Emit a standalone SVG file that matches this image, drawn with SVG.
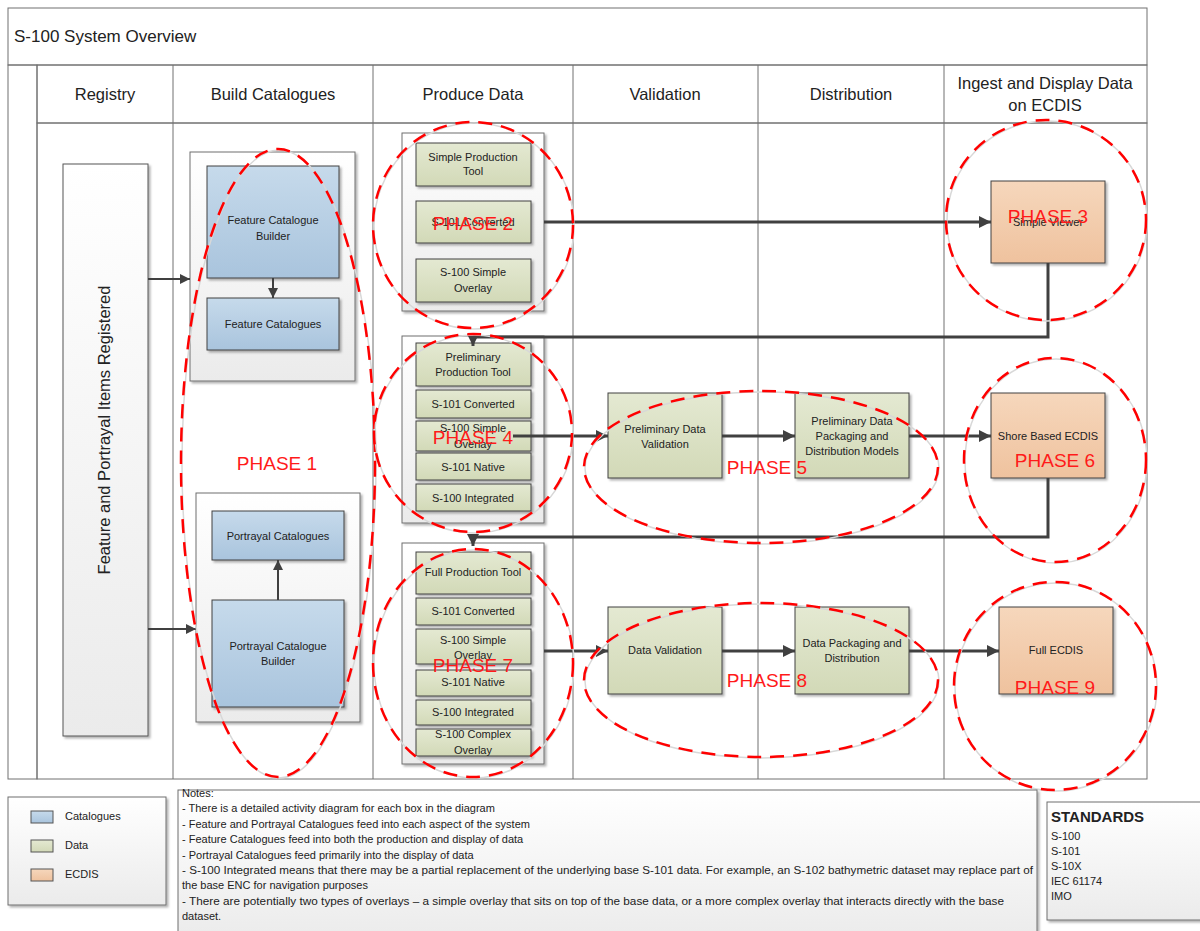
<svg xmlns="http://www.w3.org/2000/svg" width="1200" height="931" viewBox="0 0 1200 931">
<defs>
<linearGradient id="gBlue" x1="0" y1="0" x2="0" y2="1"><stop offset="0" stop-color="#C6DAEB"/><stop offset="1" stop-color="#A9C4DD"/></linearGradient>
<linearGradient id="gGreen" x1="0" y1="0" x2="0" y2="1"><stop offset="0" stop-color="#E4E9D2"/><stop offset="1" stop-color="#D2D9B7"/></linearGradient>
<linearGradient id="gOrange" x1="0" y1="0" x2="0" y2="1"><stop offset="0" stop-color="#F6D7BC"/><stop offset="1" stop-color="#EFC29E"/></linearGradient>
<linearGradient id="gGroup" x1="0" y1="0" x2="0" y2="1"><stop offset="0" stop-color="#FFFFFF"/><stop offset="1" stop-color="#EBEBEB"/></linearGradient>
<linearGradient id="gHead" x1="0" y1="0" x2="0" y2="1"><stop offset="0" stop-color="#FFFFFF"/><stop offset="1" stop-color="#EEEEEE"/></linearGradient>
<linearGradient id="gStrip" x1="0" y1="0" x2="1" y2="0"><stop offset="0" stop-color="#F7F7F7"/><stop offset="1" stop-color="#E6E6E6"/></linearGradient>
<filter id="sh" x="-10%" y="-10%" width="130%" height="130%"><feDropShadow dx="2" dy="2" stdDeviation="1" flood-color="#000" flood-opacity="0.3"/></filter>
<marker id="ah" viewBox="0 0 10 10" refX="10" refY="5" markerWidth="12" markerHeight="12" markerUnits="userSpaceOnUse" orient="auto"><path d="M0,0 L10,5 L0,10 z" fill="#404040"/></marker>
<marker id="ahs" viewBox="0 0 10 10" refX="10" refY="5" markerWidth="10" markerHeight="10" markerUnits="userSpaceOnUse" orient="auto"><path d="M0,0 L10,5 L0,10 z" fill="#404040"/></marker>
<style>
text{font-family:"Liberation Sans",Arial,sans-serif;fill:#222;}
.hd{font-size:16.5px;text-anchor:middle;}
.bx{font-size:11px;text-anchor:middle;}
.nt{font-size:11px;}
.ph{font-size:19px;fill:#FF1A1A;text-anchor:middle;}
.cat{fill:url(#gBlue);stroke:#404040;stroke-width:1;filter:url(#sh);}
.dat{fill:url(#gGreen);stroke:#404040;stroke-width:1;filter:url(#sh);}
.ecd{fill:url(#gOrange);stroke:#404040;stroke-width:1;filter:url(#sh);}
.grp{fill:url(#gGroup);stroke:#6E6E6E;stroke-width:1;filter:url(#sh);}
.ln{stroke:#707070;stroke-width:1;fill:none;}
.cn{stroke:#404040;stroke-width:3;fill:none;}
.cs{stroke:#404040;stroke-width:2;fill:none;}
.phe{fill:none;stroke:#FF0000;stroke-width:2.5;stroke-dasharray:14 9;}
.phs{fill:none;stroke:#D8D8D8;stroke-width:1.5;}
</style>
</defs>
<rect width="1200" height="931" fill="#FFFFFF"/>

<!-- frame -->
<g id="frame">
<rect x="8" y="8" width="1139" height="57" fill="url(#gHead)" class="ln"/>
<text x="14" y="42" style="font-size:17px">S-100 System Overview</text>
<rect x="8" y="65" width="29" height="714" fill="url(#gStrip)" class="ln"/>
<rect x="37" y="65" width="1110" height="58" fill="url(#gHead)" class="ln"/>
<rect x="37" y="123" width="1110" height="656" fill="#FFFFFF" class="ln"/>
<path class="ln" d="M173 65V779M373 65V779M573 65V779M758 65V779M944 65V779"/>
<text class="hd" x="105" y="100">Registry</text>
<text class="hd" x="273" y="100">Build Catalogues</text>
<text class="hd" x="473" y="100">Produce Data</text>
<text class="hd" x="665" y="100">Validation</text>
<text class="hd" x="851" y="100">Distribution</text>
<text class="hd" x="1045" y="89">Ingest and Display Data</text>
<text class="hd" x="1045" y="111">on ECDIS</text>
</g>

<!-- registry -->
<g id="registry">
<rect x="63" y="164" width="85" height="572" fill="url(#gGroup)" stroke="#555" stroke-width="1" filter="url(#sh)"/>
<text transform="translate(110,430) rotate(-90)" style="font-size:16.5px;text-anchor:middle">Feature and Portrayal Items Registered</text>
</g>

<!-- build catalogues -->
<g id="feature-group">
<rect class="grp" x="190" y="152" width="165" height="229"/>
<g id="feature-catalogue-builder"><rect class="cat" x="207" y="166" width="132" height="112"/>
<text class="bx" x="273" y="224">Feature Catalogue</text><text class="bx" x="273" y="240">Builder</text></g>
<g id="feature-catalogues"><rect class="cat" x="207" y="298" width="132" height="52"/>
<text class="bx" x="273" y="328">Feature Catalogues</text></g>
</g>
<g id="portrayal-group">
<rect class="grp" x="196" y="493" width="164" height="229"/>
<g id="portrayal-catalogues"><rect class="cat" x="212" y="511" width="132" height="49"/>
<text class="bx" x="278" y="540">Portrayal Catalogues</text></g>
<g id="portrayal-catalogue-builder"><rect class="cat" x="212" y="600" width="132" height="107"/>
<text class="bx" x="278" y="650">Portrayal Catalogue</text><text class="bx" x="278" y="665">Builder</text></g>
</g>

<!-- produce data groups -->
<g id="simple-group">
<rect class="grp" x="402" y="133" width="142" height="178"/>
<g id="simple-production-tool"><rect class="dat" x="416" y="143" width="115" height="43"/>
<text class="bx" x="473" y="161">Simple Production</text><text class="bx" x="473" y="175">Tool</text></g>
<g id="s101-converted-1"><rect class="dat" x="416" y="201" width="115" height="42"/>
<text class="bx" x="473" y="226">S-101 Converted</text></g>
<g id="s100-simple-overlay-1"><rect class="dat" x="416" y="259" width="115" height="43"/>
<text class="bx" x="473" y="276">S-100 Simple</text><text class="bx" x="473" y="292">Overlay</text></g>
</g>

<g id="preliminary-group">
<rect class="grp" x="402" y="336" width="142" height="187"/>
<g id="preliminary-production-tool"><rect class="dat" x="416" y="343" width="115" height="43"/>
<text class="bx" x="473" y="361">Preliminary</text><text class="bx" x="473" y="376">Production Tool</text></g>
<g id="s101-converted-2"><rect class="dat" x="416" y="390" width="115" height="28"/>
<text class="bx" x="473" y="408">S-101 Converted</text></g>
<g id="s100-simple-overlay-2"><rect class="dat" x="416" y="421" width="115" height="30"/>
<text class="bx" x="473" y="432">S-100 Simple</text><text class="bx" x="473" y="448">Overlay</text></g>
<g id="s101-native-2"><rect class="dat" x="416" y="453" width="115" height="27"/>
<text class="bx" x="473" y="471">S-101 Native</text></g>
<g id="s100-integrated-2"><rect class="dat" x="416" y="484" width="115" height="27"/>
<text class="bx" x="473" y="502">S-100 Integrated</text></g>
</g>

<g id="full-group">
<rect class="grp" x="402" y="543" width="142" height="221"/>
<g id="full-production-tool"><rect class="dat" x="416" y="552" width="115" height="42"/>
<text class="bx" x="473" y="576">Full Production Tool</text></g>
<g id="s101-converted-3"><rect class="dat" x="416" y="598" width="115" height="27"/>
<text class="bx" x="473" y="615">S-101 Converted</text></g>
<g id="s100-simple-overlay-3"><rect class="dat" x="416" y="629" width="115" height="35"/>
<text class="bx" x="473" y="644">S-100 Simple</text><text class="bx" x="473" y="659">Overlay</text></g>
<g id="s101-native-3"><rect class="dat" x="416" y="670" width="115" height="26"/>
<text class="bx" x="473" y="686">S-101 Native</text></g>
<g id="s100-integrated-3"><rect class="dat" x="416" y="700" width="115" height="25"/>
<text class="bx" x="473" y="716">S-100 Integrated</text></g>
<g id="s100-complex-overlay-3"><rect class="dat" x="416" y="729" width="115" height="27"/>
<text class="bx" x="473" y="738">S-100 Complex</text><text class="bx" x="473" y="754">Overlay</text></g>
</g>

<!-- validation / distribution -->
<g id="preliminary-data-validation"><rect class="dat" x="608" y="393" width="114" height="85"/>
<text class="bx" x="665" y="433">Preliminary Data</text><text class="bx" x="665" y="448">Validation</text></g>
<g id="preliminary-data-packaging"><rect class="dat" x="795" y="393" width="114" height="85"/>
<text class="bx" x="852" y="425">Preliminary Data</text><text class="bx" x="852" y="440">Packaging and</text><text class="bx" x="852" y="455">Distribution Models</text></g>
<g id="data-validation"><rect class="dat" x="608" y="607" width="114" height="87"/>
<text class="bx" x="665" y="654">Data Validation</text></g>
<g id="data-packaging"><rect class="dat" x="795" y="607" width="114" height="87"/>
<text class="bx" x="852" y="647">Data Packaging and</text><text class="bx" x="852" y="662">Distribution</text></g>

<!-- ECDIS -->
<g id="simple-viewer"><rect class="ecd" x="991" y="181" width="114" height="82"/>
<text class="bx" x="1048" y="226">Simple Viewer</text></g>
<g id="shore-based-ecdis"><rect class="ecd" x="991" y="393" width="114" height="85"/>
<text class="bx" x="1048" y="440">Shore Based ECDIS</text></g>
<g id="full-ecdis"><rect class="ecd" x="999" y="607" width="114" height="87"/>
<text class="bx" x="1056" y="654">Full ECDIS</text></g>

<!-- connectors -->
<g id="connectors">
<path class="cs" d="M148 279H190" marker-end="url(#ahs)"/>
<path class="cs" d="M148 629H196" marker-end="url(#ahs)"/>
<path class="cs" d="M273 278V298" marker-end="url(#ahs)"/>
<path class="cs" d="M278 600V560" marker-end="url(#ahs)"/>
<path class="cn" d="M544 222H991" marker-end="url(#ah)"/>
<path class="cn" d="M1048 263V337H473V346" marker-end="url(#ah)"/>
<path class="cn" d="M513 436H608" marker-end="url(#ah)"/>
<path class="cn" d="M722 436H795" marker-end="url(#ah)"/>
<path class="cn" d="M909 436H991" marker-end="url(#ah)"/>
<path class="cn" d="M1048 478V537H473V546" marker-end="url(#ah)"/>
<path class="cn" d="M544 651H608" marker-end="url(#ah)"/>
<path class="cn" d="M722 651H795" marker-end="url(#ah)"/>
<path class="cn" d="M909 651H999" marker-end="url(#ah)"/>
</g>

<!-- phases -->
<g id="phases">
<ellipse class="phs" cx="279" cy="464" rx="97" ry="314"/>
<ellipse class="phe" cx="278" cy="463" rx="97" ry="314"/>
<ellipse class="phs" cx="474" cy="226" rx="100" ry="103"/>
<ellipse class="phe" cx="473" cy="225" rx="100" ry="103"/>
<ellipse class="phs" cx="1047" cy="221" rx="100" ry="100"/>
<ellipse class="phe" cx="1046" cy="220" rx="100" ry="100"/>
<ellipse class="phs" cx="474" cy="434" rx="99" ry="99"/>
<ellipse class="phe" cx="473" cy="433" rx="99" ry="99"/>
<ellipse class="phs" cx="762" cy="468" rx="177" ry="76"/>
<ellipse class="phe" cx="761" cy="467" rx="177" ry="76"/>
<ellipse class="phs" cx="1056" cy="461" rx="91" ry="102"/>
<ellipse class="phe" cx="1055" cy="460" rx="91" ry="102"/>
<ellipse class="phs" cx="474" cy="664" rx="100" ry="114"/>
<ellipse class="phe" cx="473" cy="663" rx="100" ry="114"/>
<ellipse class="phs" cx="762" cy="681" rx="177" ry="77"/>
<ellipse class="phe" cx="761" cy="680" rx="177" ry="77"/>
<ellipse class="phs" cx="1056" cy="687" rx="101" ry="104"/>
<ellipse class="phe" cx="1055" cy="686" rx="101" ry="104"/>
<text class="ph" x="277" y="470">PHASE 1</text>
<text class="ph" x="473" y="230">PHASE 2</text>
<text class="ph" x="1048" y="223">PHASE 3</text>
<text class="ph" x="473" y="444">PHASE 4</text>
<text class="ph" x="767" y="474">PHASE 5</text>
<text class="ph" x="1055" y="467">PHASE 6</text>
<text class="ph" x="473" y="672">PHASE 7</text>
<text class="ph" x="767" y="687">PHASE 8</text>
<text class="ph" x="1055" y="694">PHASE 9</text>
</g>

<!-- legend -->
<g id="legend">
<rect x="8" y="797" width="158" height="108" fill="url(#gGroup)" stroke="#6E6E6E" filter="url(#sh)"/>
<rect x="31" y="811" width="22" height="12" fill="url(#gBlue)" stroke="#555"/>
<text class="nt" x="65" y="820">Catalogues</text>
<rect x="31" y="840" width="22" height="12" fill="url(#gGreen)" stroke="#555"/>
<text class="nt" x="65" y="849">Data</text>
<rect x="31" y="869" width="22" height="12" fill="url(#gOrange)" stroke="#555"/>
<text class="nt" x="65" y="878">ECDIS</text>
</g>

<!-- notes -->
<g id="notes">
<rect x="178" y="790" width="859" height="150" fill="url(#gGroup)" stroke="#6E6E6E" filter="url(#sh)"/>
<text class="nt" x="182" y="797">Notes:</text>
<text class="nt" x="182" y="812">- There is a detailed activity diagram for each box in the diagram</text>
<text class="nt" x="182" y="828">- Feature and Portrayal Catalogues feed into each aspect of the system</text>
<text class="nt" x="182" y="843">- Feature Catalogues feed into both the production and display of data</text>
<text class="nt" x="182" y="859">- Portrayal Catalogues feed primarily into the display of data</text>
<text class="nt" x="182" y="874" textLength="851" lengthAdjust="spacingAndGlyphs">- S-100 Integrated means that there may be a partial replacement of the underlying base S-101 data.  For example, an S-102 bathymetric dataset may replace part of</text>
<text class="nt" x="182" y="889">the base ENC for navigation purposes</text>
<text class="nt" x="182" y="905" textLength="822" lengthAdjust="spacingAndGlyphs">- There are potentially two types of overlays – a simple overlay that sits on top of the base data, or a more complex overlay that interacts directly with the base</text>
<text class="nt" x="182" y="920">dataset.</text>
</g>

<!-- standards -->
<g id="standards">
<rect x="1047" y="802" width="160" height="118" fill="url(#gGroup)" stroke="#6E6E6E" filter="url(#sh)"/>
<text x="1051" y="822" style="font-size:15px;font-weight:bold">STANDARDS</text>
<text class="nt" x="1051" y="840">S-100</text>
<text class="nt" x="1051" y="855">S-101</text>
<text class="nt" x="1051" y="870">S-10X</text>
<text class="nt" x="1051" y="885">IEC 61174</text>
<text class="nt" x="1051" y="900">IMO</text>
</g>
</svg>
